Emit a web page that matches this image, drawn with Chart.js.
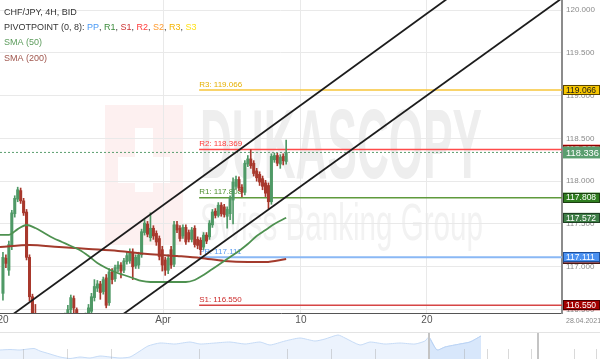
<!DOCTYPE html>
<html>
<head>
<meta charset="utf-8">
<title>CHF/JPY 4H</title>
<script src="https://cdn.jsdelivr.net/npm/chart.js@4.4.0/dist/chart.umd.min.js"></script>
<style>
  html, body { margin: 0; padding: 0; background: #fff; overflow: hidden; }
  #wrap { position: relative; width: 600px; height: 359px; }
  #main { position: absolute; left: 0; top: 0; }
  #nav { position: absolute; left: 0; top: 332px; }
</style>
</head>
<body>
<div id="wrap">
  <canvas id="main" width="600" height="327"></canvas>
  <canvas id="nav" width="600" height="27"></canvas>
</div>
<script>
// ---- 4H candles, CHF/JPY (oldest first) ----
const candleOpen = [
  116.69,117.10,116.96,117.24,117.62,117.79,117.89,117.77,117.64,117.11,
  116.65,116.43,116.22,116.30,116.18,116.08,116.15,116.24,116.16,116.28,
  116.36,116.30,116.40,116.50,116.63,116.50,116.40,116.30,116.36,116.42,
  116.48,116.64,116.75,116.80,116.71,116.87,116.58,116.94,116.86,116.98,
  117.02,116.96,117.06,117.07,117.17,117.01,117.02,117.14,117.40,117.50,
  117.34,117.45,117.39,117.33,117.20,117.08,116.96,117.20,117.03,117.49,
  117.45,117.36,117.46,117.40,117.32,117.45,117.32,117.31,117.23,117.37,
  117.35,117.49,117.65,117.60,117.72,117.70,117.59,117.62,117.78,117.94,
  118.02,117.93,117.87,118.20,118.26,118.21,118.12,118.08,118.03,117.98,
  117.95,117.76,118.25,118.30,118.20,118.29,118.23
];
const candleHigh = [
  117.17,117.14,117.30,117.66,117.83,117.93,117.92,117.80,117.67,117.14,
  116.68,116.56,116.38,116.36,116.25,116.22,116.30,116.30,116.34,116.42,
  116.43,116.46,116.55,116.67,116.66,116.52,116.44,116.42,116.46,116.56,
  116.69,116.85,116.84,116.83,116.88,116.91,116.98,116.98,117.02,117.06,
  117.05,117.10,117.17,117.21,117.21,117.14,117.17,117.44,117.55,117.53,
  117.63,117.48,117.42,117.36,117.24,117.11,117.14,117.24,117.53,117.53,
  117.48,117.49,117.49,117.43,117.46,117.48,117.35,117.34,117.40,117.40,
  117.54,117.67,117.68,117.75,117.75,117.73,117.70,117.83,118.04,118.06,
  118.05,117.96,118.24,118.30,118.37,118.24,118.15,118.11,118.06,118.01,
  117.98,118.32,118.33,118.33,118.31,118.32,118.48
];
const candleLow = [
  116.61,116.99,116.90,117.20,117.58,117.76,117.74,117.60,117.08,116.60,
  116.35,116.15,116.12,116.10,116.02,116.00,116.10,116.10,116.12,116.24,
  116.25,116.26,116.36,116.46,116.45,116.34,116.25,116.26,116.32,116.38,
  116.44,116.60,116.71,116.62,116.68,116.52,116.55,116.80,116.83,116.94,
  116.87,116.93,117.03,117.04,116.85,116.98,116.98,117.11,117.37,117.35,
  117.30,117.32,117.25,117.08,116.95,116.90,116.92,116.98,117.00,117.40,
  117.30,117.33,117.26,117.29,117.29,117.23,117.21,117.14,117.20,117.27,
  117.32,117.46,117.57,117.58,117.59,117.58,117.45,117.55,117.50,117.91,
  117.89,117.82,117.84,118.17,118.15,118.06,118.00,117.95,117.90,117.82,
  117.68,117.73,118.22,118.18,118.15,118.19,118.20
];
const candleClose = [
  117.11,117.04,117.26,117.63,117.80,117.90,117.77,117.63,117.11,116.65,
  116.42,116.22,116.30,116.18,116.08,116.15,116.24,116.16,116.28,116.36,
  116.30,116.40,116.50,116.64,116.52,116.40,116.30,116.36,116.42,116.52,
  116.65,116.77,116.80,116.70,116.85,116.55,116.94,116.85,116.99,117.02,
  116.95,117.07,117.13,117.17,117.00,117.11,117.14,117.41,117.51,117.38,
  117.45,117.36,117.29,117.12,117.02,116.96,117.10,117.02,117.49,117.43,
  117.33,117.46,117.29,117.32,117.43,117.26,117.25,117.20,117.37,117.30,
  117.51,117.64,117.60,117.72,117.62,117.61,117.67,117.80,117.99,118.02,
  117.92,117.87,118.21,118.26,118.18,118.09,118.04,117.99,117.94,117.86,
  117.76,118.29,118.30,118.21,118.28,118.24,118.336
];

// ---- moving averages (slot, price) ----
const sma50Slot  = [0,3,6,9,12,15,18,21,24,27,30,33,36,39,42,45,48,51,54,57,60,63,66,69,72,75,78,81,84,87,90,93,97];
const sma50Value = [117.372,117.372,117.440,117.488,117.453,117.395,117.337,117.290,117.243,117.196,
                    117.126,117.044,116.986,116.939,116.904,116.869,116.834,116.822,116.822,116.822,
                    116.822,116.822,116.846,116.904,116.974,117.044,117.114,117.185,117.266,117.360,
                    117.430,117.500,117.572];
const sma200Slot  = [0,10,20,30,40,50,60,68,76,84,90,97];
const sma200Value = [117.231,117.255,117.231,117.208,117.185,117.150,117.126,117.103,117.068,117.056,117.056,117.091];

// ---- trend channel (two parallel lines, slot/price end points) ----
const channelUpperSlot  = [0, 160];
const channelUpperPrice = [116.335, 120.342];
const channelLowerSlot  = [30, 200];
const channelLowerPrice = [116.155, 120.374];

// ---- pivot points (0, 8) ----
const pivotNames  = ['R3', 'R2', 'R1', 'PP', 'S1'];
const pivotValues = [119.066, 118.369, 117.808, 117.111, 116.550];
const pivotFrom = 67.5;
const pivotTo = 190.5;

// ---- axes ----
const xTickSlots  = [1, 55.3, 102, 144.7];
const xTickLabels = ['20', 'Apr', '10', '20'];
const yTickValues = [116.5, 117.0, 117.5, 118.0, 118.5, 119.0, 119.5, 120.0];
const chartDate = '28.04.2021';

// ---- navigator overview ----
const navPos   = [0,10,20,34,40,50,60,70,80,90,100,110,120,130,140,148,160,175,190,200,215,230,245,260,270,285,300,315,325,338,345,360,370,385,400,415,425,429,437,445,460,470,481];
const navLevel = [9,9.5,9,10.5,8,5,2,0.5,2,1,3,2,1,2,8,13,16,15,17,15,16,17,15,17,14,18,21,18,20,24,21,14,17,15,16,15,18,22,9,12,15,17,23];
const navWindow = [429, 481];
const navHandles = [429, 538];
const navTicks = [23, 67, 111, 199, 287, 331, 375, 464, 487, 508, 531, 574, 596];

const FONT = 'Arial, "Liberation Sans", sans-serif';
Chart.defaults.font.family = FONT;

const UP = '#4f9966', DOWN = '#a8382c';
const slotOf = i => i + 1;

const upBodies = [], downBodies = [], upWicks = [], downWicks = [];
candleOpen.forEach((o, i) => {
  const c = candleClose[i];
  const body = { x: slotOf(i), y: [o, c] };
  const wick = { x: slotOf(i), y: [candleLow[i], candleHigh[i]] };
  if (c >= o) { upBodies.push(body); upWicks.push(wick); }
  else { downBodies.push(body); downWicks.push(wick); }
});

const pts = (xs, ys) => xs.map((x, i) => ({ x, y: ys[i] }));
const lastClose = candleClose[candleClose.length - 1];

const pivotLineColors = ['#f7c63a', '#ff4a4a', '#5f9a3c', '#8ab8f5', '#d64545'];
const pivotTextColors = ['#e5b000', '#ff3b3b', '#4d8f2e', '#5b9cf0', '#cc2b2b'];

const lineDs = (data, color, width, order, extra) => Object.assign({
  type: 'line', data, borderColor: color, borderWidth: width,
  pointRadius: 0, fill: false, tension: 0, order, clip: 0
}, extra || {});

const datasets = [
  lineDs(pts(channelUpperSlot, channelUpperPrice), '#1c1c1c', 1.8, 0),
  lineDs(pts(channelLowerSlot, channelLowerPrice), '#1c1c1c', 1.8, 0),
  lineDs([{ x: 0, y: lastClose }, { x: pivotTo, y: lastClose }], '#5a9e6f', 1, 1, { borderDash: [2, 2] }),
  lineDs(pts(sma50Slot, sma50Value), '#4e9150', 1.8, 2, { cubicInterpolationMode: 'monotone' }),
  lineDs(pts(sma200Slot, sma200Value), '#a33a2c', 2, 2, { cubicInterpolationMode: 'monotone' }),
  { type: 'bar', data: upBodies, backgroundColor: UP, barThickness: 2.4, grouped: false, minBarLength: 1, order: 3 },
  { type: 'bar', data: downBodies, backgroundColor: DOWN, barThickness: 2.4, grouped: false, minBarLength: 1, order: 3 },
  { type: 'bar', data: upWicks, backgroundColor: UP, barThickness: 1, grouped: false, order: 4 },
  { type: 'bar', data: downWicks, backgroundColor: DOWN, barThickness: 1, grouped: false, order: 4 },
];
pivotValues.forEach((v, i) => {
  datasets.push(lineDs([{ x: pivotFrom, y: v }, { x: pivotTo, y: v }], pivotLineColors[i], i === 3 ? 2 : 1.5, 6));
});

// faint brand watermark behind the grid
const watermark = {
  id: 'watermark',
  beforeDraw(chart) {
    const ctx = chart.ctx;
    ctx.save();
    ctx.fillStyle = '#fdf0f0';
    ctx.fillRect(105, 105, 78, 140);
    ctx.fillStyle = '#ffffff';
    ctx.fillRect(135, 128, 18, 64);
    ctx.fillRect(118, 157, 52, 26);
    ctx.fillStyle = '#eeeeee';
    ctx.font = 'bold 98px ' + FONT;
    ctx.textBaseline = 'alphabetic';
    let w = ctx.measureText('DUKASCOPY').width;
    ctx.save(); ctx.translate(200, 178); ctx.scale(282 / w, 1);
    ctx.fillText('DUKASCOPY', 0, 0); ctx.restore();
    ctx.fillStyle = '#f2f2f2';
    ctx.font = '52px ' + FONT;
    w = ctx.measureText('Swiss Banking Group').width;
    ctx.save(); ctx.translate(200, 240); ctx.scale(283 / w, 1);
    ctx.fillText('Swiss Banking Group', 0, 0); ctx.restore();
    ctx.restore();
  }
};

// pivot captions sit under the candles
const pivotCaptions = {
  id: 'pivotCaptions',
  beforeDatasetsDraw(chart) {
    const { ctx, scales: { x, y } } = chart;
    ctx.save();
    ctx.font = '8px ' + FONT;
    ctx.textBaseline = 'bottom';
    ctx.textAlign = 'left';
    pivotValues.forEach((v, i) => {
      ctx.fillStyle = pivotTextColors[i];
      ctx.fillText(pivotNames[i] + ': ' + v.toFixed(3), x.getPixelForValue(pivotFrom), y.getPixelForValue(v) - 1.5);
    });
    ctx.restore();
  }
};

// legend block, price tags and date stamp
const overlay = {
  id: 'overlay',
  afterDraw(chart) {
    const { ctx, chartArea, scales: { y } } = chart;
    ctx.save();
    ctx.textBaseline = 'middle';
    ctx.textAlign = 'left';
    ctx.font = '9px ' + FONT;
    ctx.fillStyle = '#333';
    ctx.fillText('CHF/JPY, 4H, BID', 4, 12.7);
    let px = 4;
    const parts = [['PIVOTPOINT (0, 8): ', '#333'], ['PP', '#4a9af5'], [', ', '#333'], ['R1', '#3c8c3c'], [', ', '#333'],
      ['S1', '#cc3333'], [', ', '#333'], ['R2', '#ff3b3b'], [', ', '#333'], ['S2', '#ff9a2e'], [', ', '#333'],
      ['R3', '#f4b400'], [', ', '#333'], ['S3', '#ffe01a']];
    parts.forEach(([t, c]) => { ctx.fillStyle = c; ctx.fillText(t, px, 27.7); px += ctx.measureText(t).width; });
    ctx.fillStyle = '#5b9b5b';
    ctx.fillText('SMA (50)', 4, 42.7);
    ctx.fillStyle = '#a0564d';
    ctx.fillText('SMA (200)', 4, 58.3);

    const tags = [
      { v: pivotValues[0], fill: '#f7c600', text: '#1a1a1a', border: '#5a4600' },
      { v: pivotValues[1], fill: '#ff3b3b', text: '#fff', border: '#8b0000' },
      { v: lastClose, fill: '#5a9e6f', text: '#fff', border: null, big: true },
      { v: pivotValues[2], fill: '#2f7d1f', text: '#fff', border: '#1a3d10' },
      { v: sma50Value[sma50Value.length - 1], fill: '#3e7e46', text: '#fff', border: '#1f3f23' },
      { v: sma200Value[sma200Value.length - 1], fill: '#a33a2c', text: '#fff', border: '#4a1510' },
      { v: pivotValues[3], fill: '#4a90f0', text: '#fff', border: '#1d4f9a' },
      { v: pivotValues[4], fill: '#a30000', text: '#fff', border: '#4a0000' },
    ];
    const x0 = chartArea.right + 1;
    tags.forEach(t => {
      const cy = y.getPixelForValue(t.v);
      const h = t.big ? 12 : 10;
      ctx.fillStyle = t.fill;
      ctx.fillRect(x0, cy - h / 2, 600 - x0, h);
      if (t.border) {
        ctx.strokeStyle = t.border; ctx.lineWidth = 1;
        ctx.strokeRect(x0 + 0.5, Math.round(cy - h / 2) + 0.5, 600 - x0 - 1, h - 1);
      }
      ctx.fillStyle = t.text;
      ctx.font = (t.big ? '9.3px ' : '8.5px ') + FONT;
      ctx.fillText(t.v.toFixed(3), x0 + 3, cy + 0.5);
    });
    ctx.font = '7px ' + FONT;
    ctx.fillStyle = '#888';
    ctx.fillText(chartDate, chartArea.right + 4, 321);
    ctx.restore();
  }
};

new Chart(document.getElementById('main'), {
  type: 'bar',
  data: { datasets },
  options: {
    responsive: false,
    animation: false,
    events: [],
    layout: { padding: 0 },
    plugins: { legend: { display: false }, tooltip: { enabled: false } },
    scales: {
      x: {
        type: 'linear', min: 0, max: pivotTo, offset: false,
        grid: { offset: false, drawTicks: false, color: c => c.index === 0 ? 'rgba(0,0,0,0)' : '#e9e9e9', lineWidth: 1 },
        border: { display: true, color: '#555', width: 1 },
        ticks: { autoSkip: false, maxRotation: 0, padding: 1, color: '#555', font: { size: 10 },
                 callback: (v, i) => xTickLabels[i] },
        afterBuildTicks: s => { s.ticks = xTickSlots.map(v => ({ value: v })); },
        afterFit: s => { s.height = 14; s.paddingLeft = 0; s.paddingRight = 0; }
      },
      y: {
        type: 'linear', position: 'right', min: 116.46, max: 120.117,
        grid: { drawTicks: false, color: '#e9e9e9', lineWidth: 1 },
        border: { display: true, color: '#8c8c8c', width: 2 },
        ticks: { padding: 4, color: '#8a8a8a', font: { size: 8 }, callback: v => Number(v).toFixed(3) },
        afterBuildTicks: s => { s.ticks = yTickValues.map(v => ({ value: v })); },
        afterFit: s => { s.width = 38; s.paddingTop = 0; s.paddingBottom = 0; }
      }
    }
  },
  plugins: [watermark, pivotCaptions, overlay]
});

// ---- navigator strip ----
const navPoints = pts(navPos, navLevel);
const navSelected = navPoints.filter(p => p.x >= navWindow[0] && p.x <= navWindow[1]);
const navDecor = {
  id: 'navDecor',
  afterDraw(chart) {
    const { ctx, scales: { x } } = chart;
    ctx.save();
    ctx.strokeStyle = '#e3e3e3'; ctx.lineWidth = 1;
    ctx.beginPath(); ctx.moveTo(0, 0.5); ctx.lineTo(600, 0.5); ctx.stroke();
    ctx.strokeStyle = 'rgba(170,170,170,0.45)';
    navTicks.forEach(t => {
      const px = Math.round(x.getPixelForValue(t)) + 0.5;
      ctx.beginPath(); ctx.moveTo(px, 17); ctx.lineTo(px, 27); ctx.stroke();
    });
    ctx.strokeStyle = '#c4c4c4'; ctx.lineWidth = 2;
    navHandles.forEach(h => {
      const px = x.getPixelForValue(h);
      ctx.beginPath(); ctx.moveTo(px, 1); ctx.lineTo(px, 27); ctx.stroke();
    });
    ctx.restore();
  }
};
new Chart(document.getElementById('nav'), {
  type: 'line',
  data: {
    datasets: [
      { data: navSelected, borderColor: '#b9d2f4', borderWidth: 1, backgroundColor: '#d8e7fb', fill: 'start', pointRadius: 0, tension: 0.2, order: 0 },
      { data: navPoints, borderColor: '#c6dbf6', borderWidth: 1, backgroundColor: '#ecf3fd', fill: 'start', pointRadius: 0, tension: 0.2, order: 1 }
    ]
  },
  options: {
    responsive: false, animation: false, events: [],
    layout: { padding: 0 },
    plugins: { legend: { display: false }, tooltip: { enabled: false } },
    scales: {
      x: { type: 'linear', min: 0, max: 600, display: false },
      y: { min: 0, max: 27, display: false }
    }
  },
  plugins: [navDecor]
});
</script>
</body>
</html>
